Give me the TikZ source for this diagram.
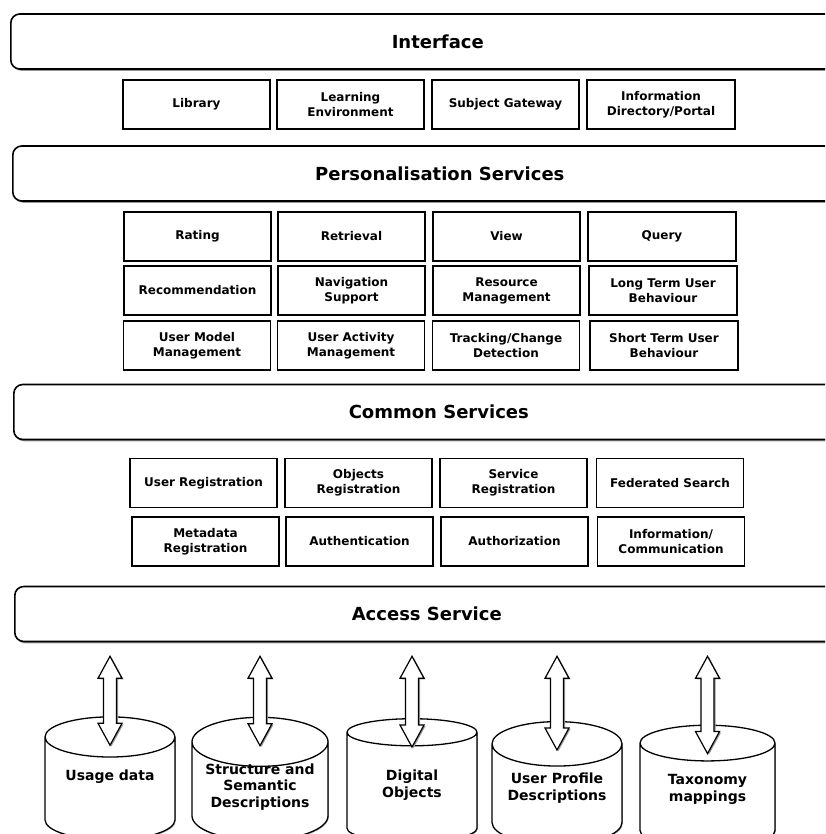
\documentclass[tikz,border=0pt]{standalone}
\usepackage{fontspec}
\setmainfont{DejaVu Sans}
\usetikzlibrary{shapes.geometric,shadows,calc}
\newcommand\fatarrow[1]{%
\draw[fatarr] let \p1=(acc.south -| #1.top), \p2=(#1.top) in
 (\x1,\y1-14pt)--(\x1+12pt,\y1-36pt)--(\x1+6.5pt,\y1-36pt)--(\x1+6.5pt,\y2-7pt)
 --(\x1+12pt,\y2-7pt)--(\x1,\y2-29pt)--(\x1-12pt,\y2-7pt)--(\x1-6.5pt,\y2-7pt)
 --(\x1-6.5pt,\y1-36pt)--(\x1-12pt,\y1-36pt)--cycle;}
\begin{document}
\begin{tikzpicture}[x=1pt,y=-1pt,
 layer/.style={draw,line width=1.6pt,rounded corners=9pt,fill=white,anchor=west,
  minimum height=55,font=\fontsize{18}{21}\selectfont\bfseries,
  drop shadow={shadow xshift=1.2pt,shadow yshift=-1.8pt,fill=gray!80,opacity=1}},
 box/.style={draw,line width=1.3pt,minimum width=147,minimum height=49,align=center,
  inner sep=1pt,font=\fontsize{12}{15}\selectfont\bfseries},
 db/.style={cylinder,shape border rotate=90,draw,line width=1.3pt,fill=white,aspect=0.44,
  minimum height=123,align=center,inner sep=1pt,text depth=30pt,
  font=\fontsize{14}{16.5}\selectfont\bfseries,
  drop shadow={shadow xshift=0.8pt,shadow yshift=-1pt,fill=gray!70,opacity=1}},
 fatarr/.style={draw,line width=1.2pt,fill=white,
  drop shadow={shadow xshift=1.5pt,shadow yshift=-1pt,fill=gray!80,opacity=1}}]
\useasboundingbox (0,0) rectangle (825,834);
\clip (0,0) rectangle (825,834);
\node[layer,minimum width=854] (ifc) at (10,41.5) {Interface};
\node[box] (lib) at (196.5,104.5) {Library};
\node[box] (lenv) at (350.5,104.5) {Learning\\Environment};
\node[box] (gate) at (505.5,104.5) {Subject Gateway};
\node[box,minimum width=148] (portal) at (661,104.5) {Information\\Directory/Portal};
\node[layer,minimum width=854] (pers) at (12,173.5) {Personalisation Services};
\node[box] (rate) at (197.5,236.5) {Rating};
\node[box] (retr) at (351.5,236.5) {Retrieval};
\node[box] (view) at (506.5,236.5) {View};
\node[box,minimum width=148] (query) at (662,236.5) {Query};
\node[box] (recom) at (197.5,290.5) {Recommendation};
\node[box] (navi) at (351.5,290.5) {Navigation\\Support};
\node[box] (resm) at (506.5,290.5) {Resource\\Management};
\node[box,minimum width=148] (ltub) at (663,290.5) {Long Term User\\Behaviour};
\node[box] (umm) at (197,345.5) {User Model\\Management};
\node[box] (uam) at (351,345.5) {User Activity\\Management};
\node[box] (track) at (506,345.5) {Tracking/Change\\Detection};
\node[box,minimum width=148] (stub) at (664,345.5) {Short Term User\\Behaviour};
\node[layer,minimum width=850] (comm) at (13,412) {Common Services};
\node[box] (ureg) at (203.5,483) {User Registration};
\node[box] (oreg) at (358.5,483) {Objects\\Registration};
\node[box] (sreg) at (513.5,483) {Service\\Registration};
\node[box] (fsea) at (670,483) {Federated Search};
\node[box] (mreg) at (205.5,541.5) {Metadata\\Registration};
\node[box] (authe) at (359.5,541.5) {Authentication};
\node[box] (autho) at (514.5,541.5) {Authorization};
\node[box] (icom) at (671,541.5) {Information/\\Communication};
\node[layer,minimum width=824] (acc) at (14,614) {Access Service};
\node[db,minimum width=130] (usage) at (110,790.5) {Usage data};
\node[db,minimum width=136,text depth=16pt,inner ysep=-6pt] (struct) at (260,793.5) {Structure and\\Semantic\\Descriptions};
\node[db,minimum width=130,text depth=10pt] (digi) at (412,788.5) {Digital\\Objects};
\node[db,minimum width=130,text depth=20pt] (uprof) at (557,796.5) {User Profile\\Descriptions};
\node[db,minimum width=135,text depth=19pt] (taxo) at (707.5,797.5) {Taxonomy\\mappings};
\fatarrow{usage}
\fatarrow{struct}
\fatarrow{digi}
\fatarrow{uprof}
\fatarrow{taxo}
\end{tikzpicture}
\end{document}
